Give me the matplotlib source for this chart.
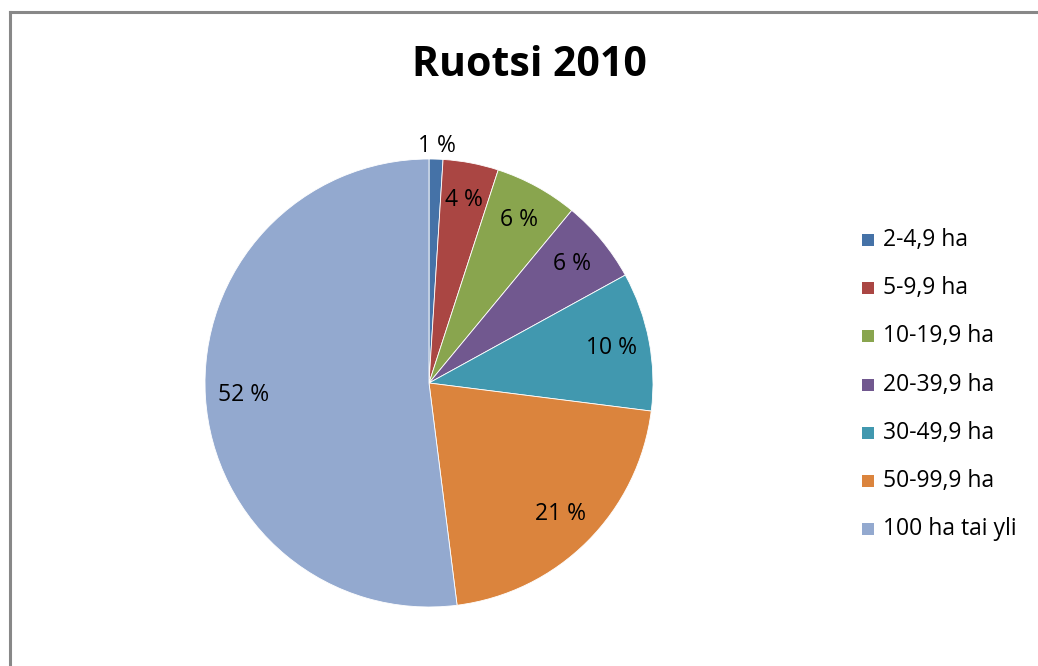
import matplotlib.pyplot as plt
import numpy as np

plt.rcParams['font.family'] = ['Open Sans', 'DejaVu Sans']

# tilakoot kokoluokittain, Ruotsi 2010 (%)
luokat = ['2-4,9 ha', '5-9,9 ha', '10-19,9 ha', '20-39,9 ha',
          '30-49,9 ha', '50-99,9 ha', '100 ha tai yli']
osuudet = [1, 4, 6, 6, 10, 21, 52]
varit = ['#4572A7', '#AA4643', '#89A54E', '#71588F',
         '#4198AF', '#DB843D', '#93A9CF']

fig = plt.figure(figsize=(10.38, 6.66), dpi=100)

# kehys vasemmalla ja ylhäällä
fig.add_artist(plt.Line2D([10/1038, 10/1038], [0, 1 - 12/666],
                          color='#888888', lw=2.2, transform=fig.transFigure))
fig.add_artist(plt.Line2D([10/1038, 1], [1 - 12/666, 1 - 12/666],
                          color='#888888', lw=2.2, transform=fig.transFigure))

fig.text(529/1038, 1 - 66/666, 'Ruotsi 2010', ha='center', va='center',
         fontsize=29.5, fontweight='bold')

ax = fig.add_axes([(429 - 224)/1038, (666 - 607)/666, 448/1038, 448/666])
wedges, _ = ax.pie(osuudet, colors=varit, startangle=90, counterclock=False,
                   radius=1, wedgeprops=dict(edgecolor='white', linewidth=0.6))
ax.set_xlim(-1, 1)
ax.set_ylim(-1, 1)
ax.set_aspect('equal')
ax.axis('off')

# arvot lohkojen päälle
for w, p in zip(wedges, osuudet):
    kulma = np.deg2rad((w.theta1 + w.theta2) / 2)
    r = 1.06 if p < 2 else 0.83
    ax.text(r*np.cos(kulma), r*np.sin(kulma), f'{p} %',
            ha='center', va='center', fontsize=16.5, color='black')

# selite
for i, (nimi, vari) in enumerate(zip(luokat, varit)):
    y = 1 - (240 + i*48.2)/666
    fig.patches.append(plt.Rectangle((862/1038, y - 6/666), 12/1038, 12/666,
                                     facecolor=vari, edgecolor='none',
                                     transform=fig.transFigure))
    fig.text(883/1038, y, nimi, ha='left', va='center', fontsize=16.5)

fig.savefig('out.png', dpi=100)
